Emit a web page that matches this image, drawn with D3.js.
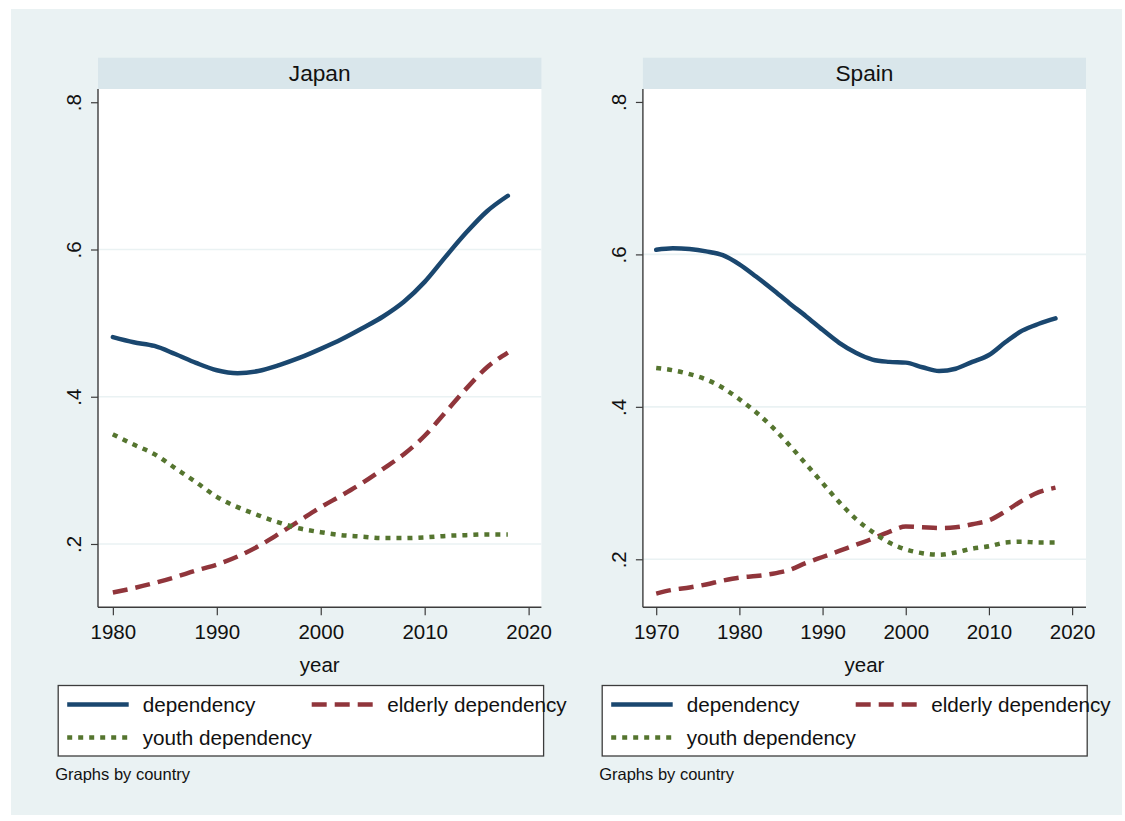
<!DOCTYPE html>
<html>
<head>
<meta charset="utf-8">
<script src="https://cdn.jsdelivr.net/npm/d3@7"></script>
<style>
  html, body { margin: 0; padding: 0; background: #ffffff; }
  svg { display: block; font-family: "Liberation Sans", Arial, sans-serif; }
</style>
</head>
<body>
<svg id="chart" width="1125" height="821"></svg>
<script>
// ---- data ----
const countries = ["Japan", "Spain"];
const seriesNames = ["dependency", "elderly dependency", "youth dependency"];

const japanYears = [1980, 1982, 1984, 1986, 1988, 1990, 1992, 1994, 1996, 1998,
                    2000, 2002, 2004, 2006, 2008, 2010, 2012, 2014, 2016, 2018];
const japanDependency = [0.481, 0.474, 0.469, 0.458, 0.446, 0.436, 0.432, 0.435, 0.443, 0.453,
                         0.465, 0.478, 0.493, 0.509, 0.529, 0.556, 0.590, 0.623, 0.652, 0.673];
const japanElderly = [0.134, 0.140, 0.147, 0.155, 0.164, 0.172, 0.183, 0.197, 0.214, 0.232,
                      0.250, 0.266, 0.283, 0.302, 0.322, 0.347, 0.379, 0.411, 0.440, 0.460];
const japanYouth = [0.349, 0.335, 0.322, 0.303, 0.284, 0.264, 0.250, 0.239, 0.229, 0.221,
                    0.216, 0.212, 0.210, 0.208, 0.208, 0.209, 0.211, 0.212, 0.213, 0.213];

const spainYears = [1970, 1972, 1974, 1976, 1978, 1980, 1982, 1984, 1986, 1988, 1990, 1992,
                    1994, 1996, 1998, 2000, 2002, 2004, 2006, 2008, 2010, 2012, 2014, 2016, 2018];
const spainDependency = [0.606, 0.608, 0.607, 0.604, 0.599, 0.587, 0.571, 0.554, 0.536, 0.519, 0.501, 0.484,
                         0.471, 0.462, 0.459, 0.458, 0.452, 0.447, 0.450, 0.459, 0.468, 0.485, 0.500, 0.509, 0.516];
const spainElderly = [0.155, 0.160, 0.163, 0.167, 0.172, 0.176, 0.178, 0.181, 0.186, 0.195, 0.203, 0.211,
                      0.219, 0.227, 0.236, 0.243, 0.242, 0.241, 0.242, 0.246, 0.251, 0.263, 0.277, 0.288, 0.294];
const spainYouth = [0.451, 0.448, 0.443, 0.436, 0.425, 0.410, 0.393, 0.373, 0.350, 0.325, 0.300, 0.275,
                    0.253, 0.236, 0.222, 0.213, 0.208, 0.206, 0.209, 0.214, 0.217, 0.222, 0.223, 0.222, 0.222];

const japanXTicks = [1980, 1990, 2000, 2010, 2020];
const spainXTicks = [1970, 1980, 1990, 2000, 2010, 2020];
const yTicks = [0.2, 0.4, 0.6, 0.8];
const yGrid = [0.2, 0.4, 0.6];

// axis ranges (Stata pads a little beyond the data)
const japanXDomain = [1978.57, 2021.23];
const japanYDomain = [0.114, 0.818];
const spainXDomain = [1968.4, 2021.67];
const spainYDomain = [0.137, 0.817];

// ---- styling ----
const colors = ["#1a476f", "#90353b", "#55752f"];
const dashes = [null, "15,8", "5,6"];
const lineWidth = 4.5;
const fontBase = "#111111";

const panels = [
  { name: countries[0], years: japanYears, values: [japanDependency, japanElderly, japanYouth],
    xTicks: japanXTicks, xDomain: japanXDomain, yDomain: japanYDomain,
    left: 98, right: 541.4, legendX: 58.2, legendW: 485.4 },
  { name: countries[1], years: spainYears, values: [spainDependency, spainElderly, spainYouth],
    xTicks: spainXTicks, xDomain: spainXDomain, yDomain: spainYDomain,
    left: 642.9, right: 1086, legendX: 602.2, legendW: 485 }
];

const svg = d3.select("#chart");

// outer graph region
svg.append("rect").attr("x", 0).attr("y", 0).attr("width", 1125).attr("height", 821).attr("fill", "#ffffff");
svg.append("rect").attr("x", 11).attr("y", 9).attr("width", 1111).attr("height", 806).attr("fill", "#eaf2f3");

const stripTop = 57.7, plotTop = 89, plotBottom = 607.3;

panels.forEach(p => {
  const g = svg.append("g");
  const x = d3.scaleLinear().domain(p.xDomain).range([p.left, p.right]);
  const y = d3.scaleLinear().domain(p.yDomain).range([plotBottom, plotTop]);

  // strip header
  g.append("rect").attr("x", p.left).attr("y", stripTop)
    .attr("width", p.right - p.left).attr("height", plotTop - stripTop).attr("fill", "#d9e6eb");
  g.append("text").attr("x", (p.left + p.right) / 2).attr("y", 80.5)
    .attr("text-anchor", "middle").attr("font-size", 22.7).attr("fill", fontBase).text(p.name);

  // plot region
  g.append("rect").attr("x", p.left).attr("y", plotTop)
    .attr("width", p.right - p.left).attr("height", plotBottom - plotTop).attr("fill", "#ffffff");

  // grid lines
  g.selectAll("line.grid").data(yGrid).join("line")
    .attr("class", "grid")
    .attr("x1", p.left).attr("x2", p.right)
    .attr("y1", d => y(d)).attr("y2", d => y(d))
    .attr("stroke", "#eaf2f3").attr("stroke-width", 1.6);

  // y axis
  const yAxis = d3.axisLeft(y).tickValues(yTicks).tickSize(7).tickPadding(0)
    .tickFormat(d => d3.format(".1f")(d).replace(/^0/, ""));
  const ya = g.append("g").attr("transform", `translate(${p.left},0)`).call(yAxis);
  ya.select(".domain").attr("stroke", "#3c3c3c").attr("stroke-width", 1.4)
    .attr("d", `M0,${plotTop}V${plotBottom}`);
  ya.selectAll(".tick line").attr("stroke", "#3c3c3c").attr("stroke-width", 1.2);
  ya.selectAll(".tick text")
    .attr("font-size", 20.5).attr("fill", fontBase)
    .attr("font-family", "Liberation Sans, Arial, sans-serif")
    .attr("text-anchor", "middle").attr("dy", null).attr("x", null)
    .attr("transform", "translate(-17,0) rotate(-90)");

  // x axis
  const xAxis = d3.axisBottom(x).tickValues(p.xTicks).tickSize(8).tickPadding(9)
    .tickFormat(d3.format("d"));
  const xa = g.append("g").attr("transform", `translate(0,${plotBottom})`).call(xAxis);
  xa.select(".domain").attr("stroke", "#3c3c3c").attr("stroke-width", 1.4)
    .attr("d", `M${p.left},0H${p.right}`);
  xa.selectAll(".tick line").attr("stroke", "#3c3c3c").attr("stroke-width", 1.2);
  xa.selectAll(".tick text").attr("font-size", 20.5).attr("fill", fontBase)
    .attr("font-family", "Liberation Sans, Arial, sans-serif");

  g.append("text").attr("x", (p.left + p.right) / 2).attr("y", 671.5)
    .attr("text-anchor", "middle").attr("font-size", 20.5).attr("fill", fontBase).text("year");

  // series lines
  const line = d3.line()
    .x(d => x(d[0])).y(d => y(d[1]))
    .curve(d3.curveMonotoneX);
  p.values.forEach((vals, i) => {
    const pts = p.years.map((yr, k) => [yr, vals[k]]);
    g.append("path").datum(pts)
      .attr("d", line)
      .attr("fill", "none")
      .attr("stroke", colors[i])
      .attr("stroke-width", lineWidth)
      .attr("stroke-dasharray", dashes[i])
      .attr("stroke-linejoin", "round")
      .attr("stroke-linecap", i === 0 ? "round" : "butt");
  });

  // legend
  const lg = g.append("g");
  lg.append("rect").attr("x", p.legendX).attr("y", 685.5)
    .attr("width", p.legendW).attr("height", 70.5)
    .attr("fill", "#ffffff").attr("stroke", "#3c3c3c").attr("stroke-width", 1.3);
  const lx0 = p.legendX + 9;
  const entries = [
    { i: 0, sx: lx0, sy: 704.5, ty: 712 },
    { i: 1, sx: lx0 + 244.5, sy: 704.5, ty: 712 },
    { i: 2, sx: lx0, sy: 737.5, ty: 745 }
  ];
  entries.forEach(e => {
    lg.append("line").attr("x1", e.sx).attr("x2", e.sx + 61.5)
      .attr("y1", e.sy).attr("y2", e.sy)
      .attr("stroke", colors[e.i]).attr("stroke-width", lineWidth)
      .attr("stroke-dasharray", dashes[e.i]);
    lg.append("text").attr("x", e.sx + 75.5).attr("y", e.ty)
      .attr("font-size", 20.7).attr("fill", fontBase).text(seriesNames[e.i]);
  });

  g.append("text").attr("x", p.legendX - 3).attr("y", 780)
    .attr("font-size", 16.5).attr("fill", fontBase).text("Graphs by country");
});
</script>
</body>
</html>
